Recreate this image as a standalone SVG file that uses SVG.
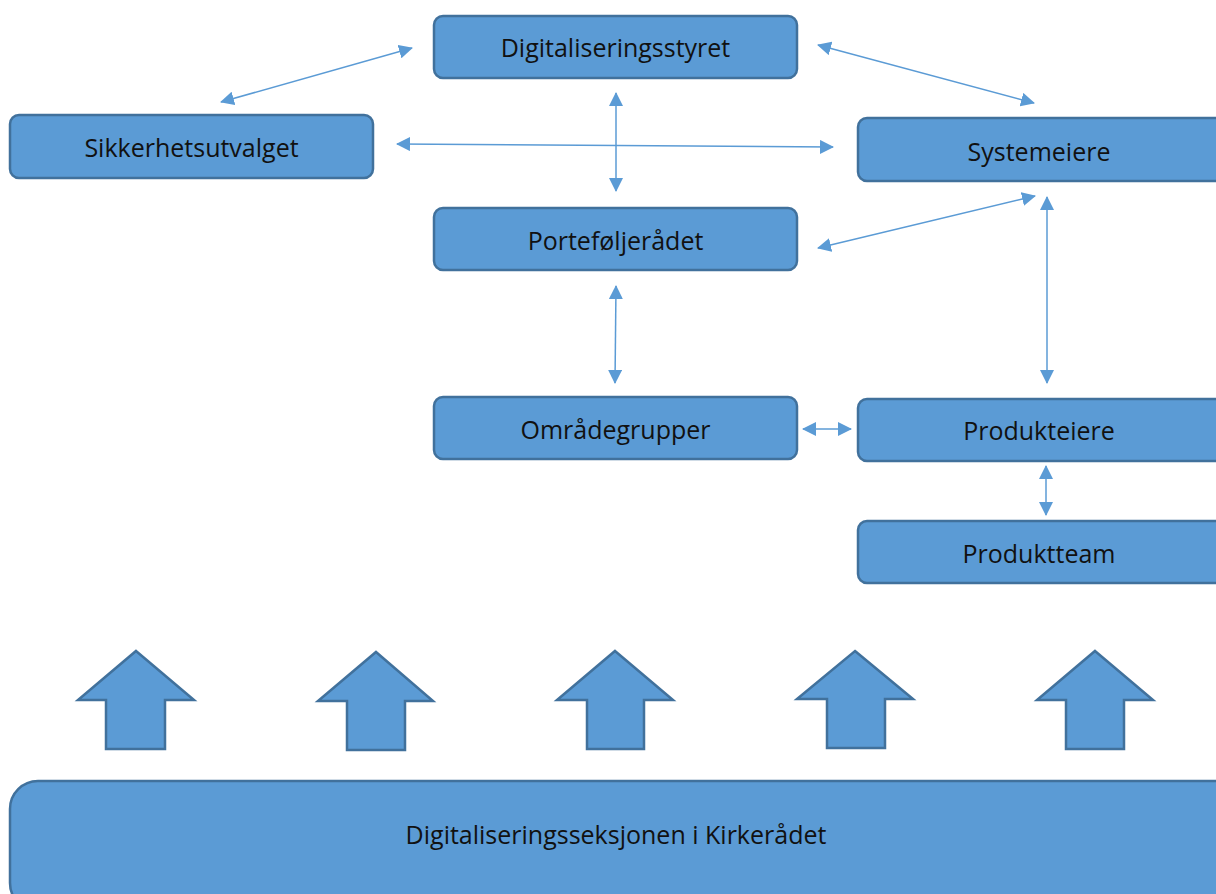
<svg xmlns="http://www.w3.org/2000/svg" width="1216" height="894" viewBox="0 0 1216 894">
<defs>
<style>
.box{fill:#5B9BD5;stroke:#41719C;stroke-width:2.5}
.lbl{font-family:"Open Sans","Liberation Sans",sans-serif;font-size:25px;fill:#111;text-anchor:middle;dominant-baseline:central}
.con{stroke:#5B9BD5;stroke-width:1.5;fill:none;marker-start:url(#ah);marker-end:url(#ah)}
.up{fill:#5B9BD5;stroke:#41719C;stroke-width:2.5;stroke-linejoin:miter}
</style>
<marker id="ah" markerUnits="userSpaceOnUse" markerWidth="14" markerHeight="14" refX="13" refY="7" orient="auto-start-reverse" viewBox="0 0 14 14">
<path d="M0,0 L14,7 L0,14 z" fill="#5B9BD5"/>
</marker>
</defs>
<rect width="1216" height="894" fill="#fff"/>
<g id="connectors">
<line class="con" x1="412" y1="48" x2="221" y2="102"/>
<line class="con" x1="818" y1="45" x2="1034" y2="103"/>
<line class="con" x1="616" y1="93" x2="616" y2="191"/>
<line class="con" x1="397" y1="144" x2="833" y2="147"/>
<line class="con" x1="818" y1="248" x2="1035" y2="196"/>
<line class="con" x1="1047" y1="197" x2="1047" y2="383"/>
<line class="con" x1="616" y1="286" x2="615" y2="383"/>
<line class="con" x1="803" y1="429" x2="851" y2="429"/>
<line class="con" x1="1046" y1="466" x2="1046" y2="515"/>
</g>
<g id="n-digitaliseringsstyret"><rect class="box" x="434" y="16" width="363" height="62" rx="9"/><text class="lbl" x="615.5" y="47">Digitaliseringsstyret</text></g>
<g id="n-sikkerhetsutvalget"><rect class="box" x="10" y="115" width="363" height="63" rx="9"/><text class="lbl" x="191.5" y="147">Sikkerhetsutvalget</text></g>
<g id="n-systemeiere"><rect class="box" x="858" y="118" width="372" height="63" rx="9"/><text class="lbl" x="1039" y="151">Systemeiere</text></g>
<g id="n-portefoljeradet"><rect class="box" x="434" y="208" width="363" height="62" rx="9"/><text class="lbl" x="615.5" y="240">Porteføljerådet</text></g>
<g id="n-omradegrupper"><rect class="box" x="434" y="397" width="363" height="62" rx="9"/><text class="lbl" x="615.5" y="429">Områdegrupper</text></g>
<g id="n-produkteiere"><rect class="box" x="858" y="399" width="372" height="62" rx="9"/><text class="lbl" x="1039" y="430">Produkteiere</text></g>
<g id="n-produktteam"><rect class="box" x="858" y="521" width="372" height="62" rx="9"/><text class="lbl" x="1039" y="553">Produktteam</text></g>
<g id="up-arrows">
<path class="up" d="M136,651 L194,700 L165,700 L165,749 L106,749 L106,700 L78,700 Z"/>
<path class="up" d="M376,652 L433,701 L405,701 L405,750 L347,750 L347,701 L318,701 Z"/>
<path class="up" d="M615,651 L673,700 L644,700 L644,749 L587,749 L587,700 L557,700 Z"/>
<path class="up" d="M855,651 L913,699 L885,699 L885,748 L827,748 L827,699 L797,699 Z"/>
<path class="up" d="M1095,651 L1153,700 L1124,700 L1124,749 L1066,749 L1066,700 L1037,700 Z"/>
</g>
<g id="n-digitaliseringsseksjonen"><rect class="box" x="10" y="781" width="1240" height="130" rx="28"/><text class="lbl" x="616" y="834">Digitaliseringsseksjonen i Kirkerådet</text></g>
</svg>
